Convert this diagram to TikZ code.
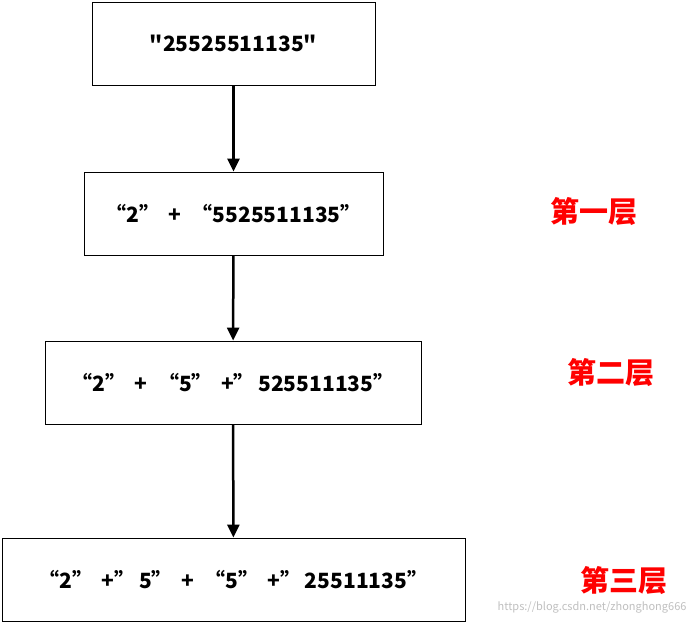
\documentclass[tikz,border=0pt]{standalone}
\usepackage{fontspec}
\setmainfont{Noto Sans CJK SC}
\newfontfamily\cjk{Noto Sans CJK SC}
\usetikzlibrary{arrows.meta,positioning}

\begin{document}
\begin{tikzpicture}[
    x=1pt, y=-1pt,
    level/.style={rectangle, draw=black, thick, fill=white, minimum height=83pt, font=\cjk\bfseries\fontsize{21}{24}\selectfont, text centered},
    layer/.style={text=red, font=\cjk\bfseries\fontsize{29}{32}\selectfont},
    arrow/.style={-{Triangle[length=13pt,width=12pt]}, line width=2.5pt}
]
    \useasboundingbox (0,0) rectangle (697,625);

    % Levels
    \node[level, minimum width=283pt] (root) at (233.5,43.5) {"25525511135"};
    \node[level, minimum width=299pt] (first) at (233.5,213.5) {“2”\, +\; “5525511135”};
    \node[level, minimum width=376pt] (second) at (233,382.5) {“2”\, +\; “5”\, +”\,525511135”};
    \node[level, minimum width=463pt] (third) at (233.5,579.5) {“2”\, +”\,5”\, +\; “5”\, +”\,25511135”};

    % Layer labels
    \node[layer] (l1) at (594,212) {第一层};
    \node[layer] (l2) at (611,373) {第二层};
    \node[layer] (l3) at (624,580) {第三层};

    % Watermark
    \node[text=black!25, font=\fontsize{11}{12}\selectfont, anchor=east] (mark) at (690,607) {https://blog.csdn.net/zhonghong666};

    % Arrows
    \draw[arrow] (root) -- (first);
    \draw[arrow] (first) -- (second);
    \draw[arrow] (second) -- (third);
\end{tikzpicture}
\end{document}
